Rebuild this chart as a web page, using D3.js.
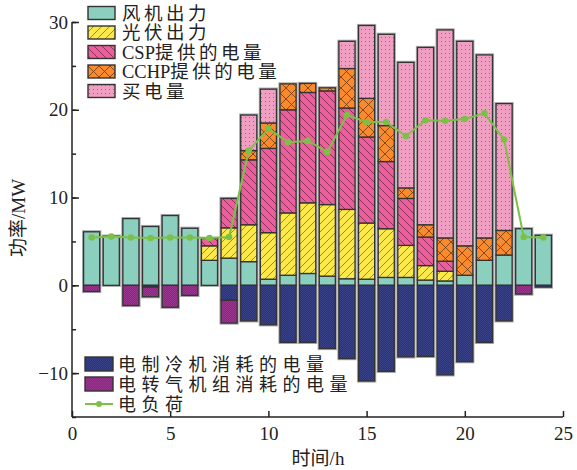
<!DOCTYPE html>
<html><head><meta charset="utf-8">
<script src="https://cdn.jsdelivr.net/npm/d3@7"></script>
<style>
body{margin:0;background:#fff;}
text{font-family:"Liberation Serif","Noto Sans CJK SC",serif;fill:#222;}
</style></head>
<body><svg id="c" width="577" height="470"></svg>
<script>
const hours = d3.range(1,25);
const wind    = [6.1,5.6,7.6,6.7,7.95,6.5,2.85,3.1,2.7,0.7,1.15,1.35,1.05,0.75,0.7,0.9,0.9,0.6,0.5,1.15,2.85,3.45,6.45,5.7];
const pv      = [0,0,0,0,0,0,1.65,3.45,4.2,5.3,7.1,8.05,8.15,7.9,6.4,5.55,3.65,1.65,1.1,0,0,0,0,0];
const csp     = [0,0,0,0,0,0,0.85,3.35,7.4,9.6,11.75,12.57,12.95,11.55,9.8,7.65,5.35,3.25,1.15,0,0,0,0,0];
const cchp    = [0,0,0,0,0,0,0,0,1.05,2.9,2.95,1.03,0.35,4.5,4.4,4.1,1.2,1.4,2.65,3.35,2.55,2.8,0,0];
const buy     = [0,0,0,0,0,0,0,0,4.05,3.85,0,0,0,3.1,8.3,10.4,14.3,20.2,23.7,23.3,20.85,14.45,0,0];
const chiller = [0,0,0,-0.2,0,0,0,-1.7,-4.05,-4.5,-6.5,-6.5,-7.2,-8.35,-10.9,-9.8,-8.15,-8.1,-10.2,-8.7,-6.5,-4.05,0,-0.2];
const p2g     = [-0.7,0,-2.3,-1.1,-2.5,-1.15,0,-2.6,0,0,0,0,0,0,0,0,0,0,0,0,0,0,-1.0,0];
const load    = [5.45,5.55,5.45,5.4,5.45,5.45,5.4,5.5,15.35,17.85,16.3,16.45,15.2,19.4,18.6,18.6,17.0,18.8,18.75,18.95,19.6,16.6,5.5,5.45];
const xTicks = [0,5,10,15,20,25];
const yTicks = [-10,0,10,20,30];
const seriesNames = ["风机出力","光伏出力","CSP提供的电量","CCHP提供的电量","买电量","电制冷机消耗的电量","电转气机组消耗的电量"];
const loadName = "电负荷";
const xLabel = "时间/h", yLabel = "功率/MW";

const keys = ["wind","pv","csp","cchp","buy","chiller","p2g"];
const arrs = [wind,pv,csp,cchp,buy,chiller,p2g];
const table = hours.map((h,i)=>{const o={h};keys.forEach((k,j)=>o[k]=arrs[j][i]);return o;});

const svg = d3.select("#c");
const x = d3.scaleLinear().domain([0,25]).range([72,563]);
const y = d3.scaleLinear().domain([-15,30]).range([417,22]);
const defs = svg.append("defs");

function linePat(id,bg,fg,size,paths,sw){
  const p=defs.append("pattern").attr("id",id).attr("patternUnits","userSpaceOnUse").attr("width",size).attr("height",size);
  p.append("rect").attr("width",size).attr("height",size).attr("fill",bg);
  paths.forEach(d=>p.append("path").attr("d",d).attr("stroke",fg).attr("stroke-width",sw).attr("fill","none"));
}
linePat("pv","#fbe94c","#7d7030",8,["M0,8 L8,0","M-2,2 L2,-2","M6,10 L10,6"],0.8);
linePat("csp","#ec5e9c","#6e2848",8,["M0,0 L8,8","M-2,6 L2,10","M6,-2 L10,2"],0.8);
linePat("cchp","#fa8a2e","#6a3a12",11,["M0,0 L11,11","M0,11 L11,0"],0.8);
(function(){const p=defs.append("pattern").attr("id","buy").attr("patternUnits","userSpaceOnUse").attr("width",4).attr("height",4);
 p.append("rect").attr("width",4).attr("height",4).attr("fill","#f19ec3");
 p.append("rect").attr("x",1).attr("y",1).attr("width",1).attr("height",1).attr("fill","#b05a80");})();
function finePat(id,bg,fg){const p=defs.append("pattern").attr("id",id).attr("patternUnits","userSpaceOnUse").attr("width",2).attr("height",2);
 p.append("rect").attr("width",2).attr("height",2).attr("fill",bg);
 p.append("rect").attr("width",1).attr("height",1).attr("fill",fg);
 p.append("rect").attr("x",1).attr("y",1).attr("width",1).attr("height",1).attr("fill",fg);}
finePat("chiller","#2c3270","#3a4288");
finePat("p2g","#86287a","#9a3890");

const fills = {wind:"#8bcfbf",pv:"url(#pv)",csp:"url(#csp)",cchp:"url(#cchp)",buy:"url(#buy)",chiller:"url(#chiller)",p2g:"url(#p2g)"};

const stack = d3.stack().keys(keys).offset(d3.stackOffsetDiverging);
const series = stack(table);
const bw = x(0.82)-x(0);

const ext = table.map((d,i)=>{let lo=0,hi=0;series.forEach(s=>{lo=Math.min(lo,s[i][0],s[i][1]);hi=Math.max(hi,s[i][0],s[i][1]);});return {h:d.h,lo,hi};});
svg.append("g").selectAll("rect").data(ext).join("rect")
  .attr("x",d=>x(d.h)-bw/2).attr("width",bw)
  .attr("y",d=>y(d.hi)).attr("height",d=>y(d.lo)-y(d.hi))
  .attr("fill","none").attr("stroke","#aaa").attr("stroke-width",3.2);

series.forEach(s=>{
  svg.append("g").selectAll("rect").data(s.filter(d=>Math.abs(d[1]-d[0])>1e-9)).join("rect")
    .attr("x",d=>x(d.data.h)-bw/2).attr("width",bw)
    .attr("y",d=>y(Math.max(d[0],d[1]))).attr("height",d=>Math.abs(y(d[0])-y(d[1])))
    .attr("fill",fills[s.key]).attr("stroke","#333").attr("stroke-width",1.3);
});

const lineGen = d3.line().x((d,i)=>x(hours[i])).y(d=>y(d));
svg.append("path").attr("d",lineGen(load)).attr("fill","none").attr("stroke","#7cc146").attr("stroke-width",2);
svg.append("g").selectAll("circle").data(load).join("circle")
  .attr("cx",(d,i)=>x(hours[i])).attr("cy",d=>y(d)).attr("r",3.3).attr("fill","#7cc146");

const ax = svg.append("g").attr("transform",`translate(0,${y(-15)})`)
  .call(d3.axisBottom(x).tickValues(xTicks).tickSize(-6).tickPadding(10).tickFormat(d3.format("d")));
const ayg = svg.append("g").attr("transform",`translate(${x(0)},0)`);
ayg.call(d3.axisLeft(y).tickValues(d3.range(-15,31,5)).tickSize(-4).tickFormat(""));
const ay = svg.append("g").attr("transform",`translate(${x(0)},0)`)
  .call(d3.axisLeft(y).tickValues(yTicks).tickSize(-7).tickPadding(4).tickFormat(d=>d<0?"\u2212"+Math.abs(d):d));
[ax,ay,ayg].forEach(g=>{g.select(".domain").attr("stroke","#222").attr("stroke-width",1.5);
  g.selectAll(".tick line").attr("stroke","#222").attr("stroke-width",1.5);
  g.selectAll("text").attr("font-size",19).attr("font-family","Liberation Serif").attr("fill","#222");});
ay.select(".domain").remove(); ax.select(".domain").attr("d",`M${x(0)},0H${x(25)}`);
ayg.select(".domain").attr("d",`M0,${y(30)}V${y(-15)}`);

svg.append("text").attr("x",318).attr("y",465).attr("text-anchor","middle").attr("font-size",19).text(xLabel);
svg.append("text").attr("transform","translate(25,218) rotate(-90)").attr("text-anchor","middle").attr("font-size",19).text(yLabel);

// text with spacing only on CJK runs
function spacedText(g,xx,yy,str,fs,sp){
  const t=g.append("text").attr("x",xx).attr("y",yy).attr("font-size",fs);
  const runs=str.match(/[A-Za-z0-9\/]+|[^A-Za-z0-9\/]+/g);
  runs.forEach(r=>{
    const latin=/^[A-Za-z0-9\/]+$/.test(r);
    t.append("tspan").attr("letter-spacing",latin?0:sp).attr("dx",latin?0:(0)).text(r);
  });
  return t;
}
const lg = svg.append("g");
[0,1,2,3,4].forEach((k,i)=>{
  const cy = 13 + i*19.5;
  lg.append("rect").attr("x",88).attr("y",cy-6.5).attr("width",27).attr("height",13).attr("fill",fills[keys[k]]).attr("stroke","#333").attr("stroke-width",1.4);
  spacedText(lg,122,cy+6.5,seriesNames[k],18.5,3.5);
});
[5,6].forEach((k,i)=>{
  const cy = 364 + i*20;
  lg.append("rect").attr("x",85).attr("y",cy-7).attr("width",28).attr("height",14).attr("fill",fills[keys[k]]).attr("stroke","#333").attr("stroke-width",1.4);
  spacedText(lg,118,cy+6.5,seriesNames[k],18,5.5);
});
lg.append("line").attr("x1",85).attr("x2",113).attr("y1",404).attr("y2",404).attr("stroke","#7cc146").attr("stroke-width",2);
lg.append("circle").attr("cx",99).attr("cy",404).attr("r",3).attr("fill","#7cc146");
spacedText(lg,118,411,loadName,18,5.5);
</script></body></html>
